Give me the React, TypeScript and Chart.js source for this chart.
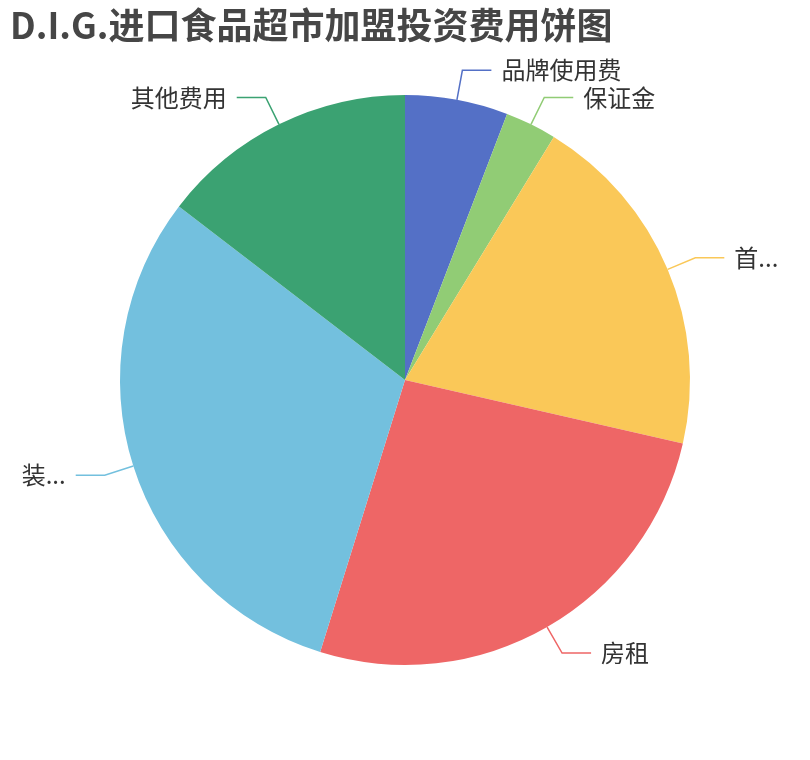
import { useEffect, useRef } from "react";
import { Chart, ArcElement, PieController, Plugin } from "chart.js";

Chart.register(ArcElement, PieController);

// 费用项目（万元）
const categories = ["品牌使用费", "保证金", "首...", "房租", "装...", "其他费用"];
const costs = [2, 1, 6.8, 9, 10.5, 5];
const sliceColors = ["#5470c6", "#91cc75", "#fac858", "#ee6666", "#73c0de", "#3ba272"];

const chartTitle = "D.I.G.进口食品超市加盟投资费用饼图";
const FONT = '"Noto Sans CJK SC", "Noto Sans", sans-serif';

// 标题 + 外部引导线标签
const outsideLabels: Plugin<"pie"> = {
  id: "outsideLabels",
  afterDatasetsDraw(chart) {
    const ctx = chart.ctx;
    const meta = chart.getDatasetMeta(0);
    const len1 = 30;
    const len2 = 29;
    const gap = 10;

    ctx.save();
    ctx.font = `bold 36px ${FONT}`;
    ctx.fillStyle = "#464646";
    ctx.textAlign = "left";
    ctx.textBaseline = "middle";
    ctx.fillText(chartTitle, 10, 25);

    ctx.font = `24px ${FONT}`;
    meta.data.forEach((el, i) => {
      const arc = el as unknown as ArcElement;
      const { x, y, startAngle, endAngle, outerRadius } = arc.getProps(
        ["x", "y", "startAngle", "endAngle", "outerRadius"],
        true
      );
      const mid = (startAngle + endAngle) / 2;
      const cos = Math.cos(mid);
      const sin = Math.sin(mid);
      const x0 = x + cos * outerRadius;
      const y0 = y + sin * outerRadius;
      const x1 = x + cos * (outerRadius + len1);
      const y1 = y + sin * (outerRadius + len1);
      const dir = cos >= 0 ? 1 : -1;
      const x2 = x1 + dir * len2;

      ctx.strokeStyle = sliceColors[i];
      ctx.lineWidth = 1.5;
      ctx.beginPath();
      ctx.moveTo(x0, y0);
      ctx.lineTo(x1, y1);
      ctx.lineTo(x2, y1);
      ctx.stroke();

      ctx.fillStyle = "#333";
      ctx.textAlign = dir > 0 ? "left" : "right";
      ctx.fillText(categories[i], x2 + dir * gap, y1);
    });
    ctx.restore();
  },
};

const App = () => {
  const canvasRef = useRef<HTMLCanvasElement | null>(null);

  useEffect(() => {
    const ctx = canvasRef.current?.getContext("2d");
    if (!ctx) return;

    const chart = new Chart(ctx, {
      type: "pie",
      data: {
        labels: categories,
        datasets: [
          {
            data: costs,
            backgroundColor: sliceColors,
            borderWidth: 0,
          },
        ],
      },
      options: {
        responsive: false,
        animation: false,
        layout: {
          padding: { left: 120, right: 120, top: 95, bottom: 95 },
        },
        plugins: {
          legend: { display: false },
          tooltip: { enabled: false },
        },
      },
      plugins: [outsideLabels],
    });

    return () => {
      chart.destroy();
    };
  }, []);

  return (
    <div style={{ position: "fixed", left: 0, top: 0, width: 810, height: 760, background: "#fff" }}>
      <canvas ref={canvasRef} width={810} height={760}></canvas>
    </div>
  );
};

export default App;
